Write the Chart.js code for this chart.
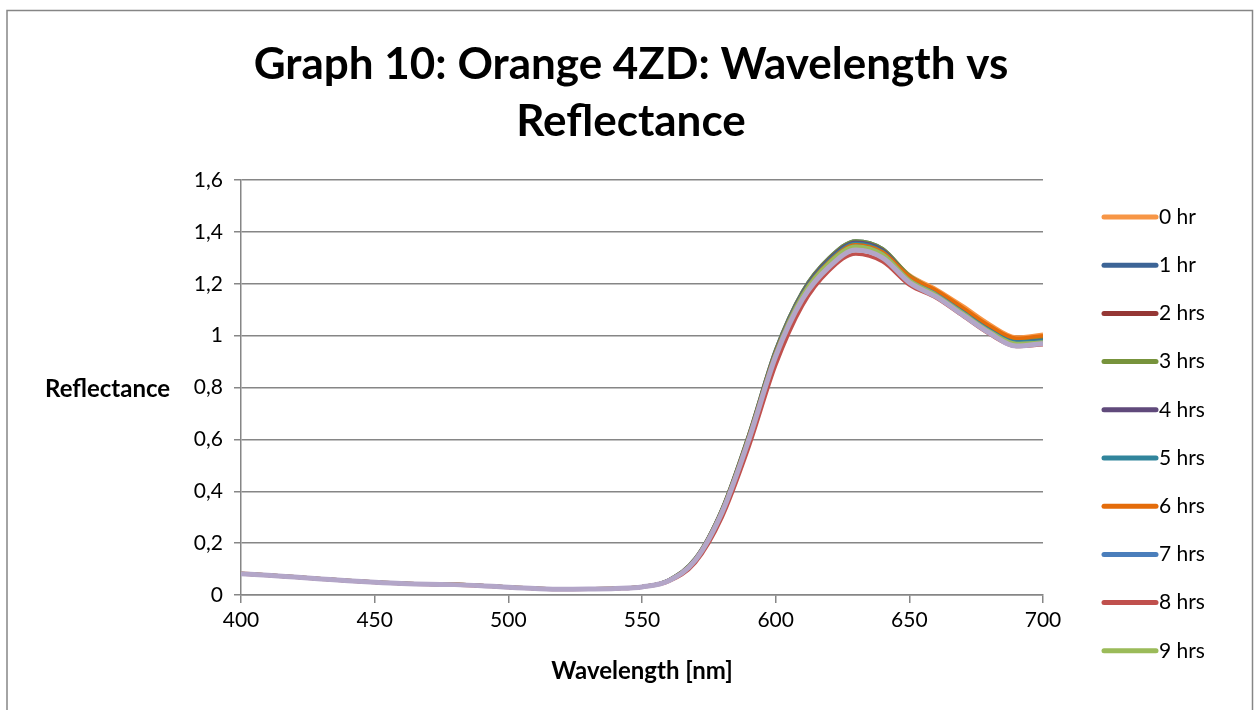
<!DOCTYPE html>
<html>
<head>
<meta charset="utf-8">
<script src="https://cdn.jsdelivr.net/npm/chart.js@4.4.1/dist/chart.umd.min.js"></script>
<style>
  html, body { margin: 0; padding: 0; background: #fff; }
  #wrap { width: 1257px; height: 710px; position: relative; }
</style>
</head>
<body>
<div id="wrap"><canvas id="reflChart"></canvas></div>
<script>
// wavelengths (nm)
const wavelengths = [400,410,420,430,440,450,460,470,480,490,500,510,520,530,540,550,560,570,580,590,600,610,620,630,640,650,660,670,680,690,700];

// reflectance per exposure time
const hr0  = [0.084,0.077,0.070,0.063,0.056,0.050,0.045,0.042,0.041,0.037,0.031,0.026,0.023,0.024,0.026,0.032,0.057,0.140,0.330,0.615,0.935,1.160,1.290,1.355,1.330,1.235,1.180,1.115,1.045,0.995,1.005];
const hr1  = [0.083,0.077,0.070,0.063,0.056,0.050,0.045,0.042,0.041,0.037,0.031,0.026,0.023,0.024,0.026,0.032,0.058,0.142,0.333,0.620,0.945,1.170,1.300,1.365,1.335,1.230,1.170,1.100,1.030,0.980,0.985];
const hr2  = [0.082,0.076,0.069,0.062,0.055,0.049,0.044,0.041,0.040,0.036,0.030,0.025,0.022,0.023,0.025,0.031,0.056,0.138,0.325,0.610,0.935,1.160,1.285,1.350,1.320,1.225,1.170,1.100,1.030,0.980,0.990];
const hr3  = [0.083,0.077,0.070,0.063,0.056,0.050,0.045,0.042,0.041,0.037,0.031,0.026,0.023,0.024,0.026,0.032,0.058,0.142,0.333,0.620,0.945,1.170,1.300,1.365,1.335,1.232,1.172,1.102,1.032,0.982,0.988];
const hr4  = [0.082,0.076,0.069,0.062,0.055,0.049,0.044,0.041,0.040,0.036,0.030,0.025,0.022,0.023,0.025,0.031,0.057,0.140,0.330,0.615,0.940,1.165,1.295,1.360,1.330,1.225,1.165,1.095,1.025,0.975,0.982];
const hr5  = [0.082,0.076,0.069,0.062,0.055,0.049,0.044,0.041,0.040,0.036,0.030,0.025,0.022,0.023,0.025,0.031,0.057,0.139,0.328,0.612,0.938,1.162,1.290,1.355,1.325,1.222,1.162,1.092,1.022,0.975,0.980];
const hr6  = [0.083,0.077,0.070,0.063,0.056,0.050,0.045,0.042,0.041,0.037,0.031,0.026,0.023,0.024,0.026,0.032,0.057,0.139,0.328,0.612,0.935,1.158,1.285,1.350,1.322,1.228,1.175,1.108,1.038,0.990,1.000];
const hr7  = [0.082,0.076,0.069,0.062,0.055,0.049,0.044,0.041,0.040,0.036,0.030,0.025,0.022,0.023,0.025,0.031,0.056,0.137,0.324,0.606,0.930,1.155,1.280,1.345,1.315,1.215,1.160,1.088,1.018,0.970,0.975];
const hr8  = [0.081,0.075,0.068,0.061,0.054,0.048,0.043,0.040,0.039,0.035,0.029,0.024,0.021,0.022,0.024,0.030,0.052,0.125,0.300,0.570,0.885,1.115,1.250,1.315,1.285,1.195,1.145,1.075,1.005,0.958,0.965];
const hr9  = [0.082,0.076,0.069,0.062,0.055,0.049,0.044,0.041,0.040,0.036,0.030,0.025,0.022,0.023,0.025,0.031,0.056,0.137,0.325,0.607,0.930,1.155,1.282,1.345,1.315,1.215,1.158,1.088,1.018,0.970,0.975];
const hr10 = [0.082,0.076,0.069,0.062,0.055,0.049,0.044,0.041,0.040,0.036,0.030,0.025,0.022,0.023,0.025,0.031,0.055,0.135,0.320,0.600,0.920,1.140,1.265,1.330,1.300,1.205,1.150,1.080,1.010,0.960,0.970];

const seriesLabels = ['0 hr','1 hr','2 hrs','3 hrs','4 hrs','5 hrs','6 hrs','7 hrs','8 hrs','9 hrs','10 hrs'];
const seriesValues = [hr0,hr1,hr2,hr3,hr4,hr5,hr6,hr7,hr8,hr9,hr10];
const seriesColors = ['#F79646','#3C6496','#953735','#77933C','#604A7B','#31859C','#E46C0A','#4A7EBB','#C0504D','#9BBB59','#B3A6C8'];

const yTicks = [0,0.2,0.4,0.6,0.8,1,1.2,1.4,1.6];
const xTicks = [400,450,500,550,600,650,700];

const FONT = 'Lato, "Open Sans", sans-serif';
const GRID = '#868686';

// frame, titles, and the legend (only 10 entries fit in the frame)
const decorations = {
  id: 'decorations',
  beforeDraw(chart) {
    const ctx = chart.ctx;
    ctx.save();
    ctx.fillStyle = '#fff';
    ctx.fillRect(0, 0, chart.width, chart.height);
    ctx.restore();
  },
  afterDraw(chart) {
    const ctx = chart.ctx;
    ctx.save();
    ctx.strokeStyle = GRID;
    ctx.lineWidth = 1.5;
    ctx.strokeRect(7, 10.5, 1245.5, 720);

    ctx.fillStyle = '#000';
    ctx.textAlign = 'center';
    ctx.textBaseline = 'middle';
    ctx.font = 'bold 44px ' + FONT;
    ctx.fillText('Graph 10: Orange 4ZD: Wavelength vs', 631, 65);
    ctx.fillText('Reflectance', 631, 122);

    ctx.font = 'bold 24px ' + FONT;
    ctx.textAlign = 'left';
    ctx.fillText('Reflectance', 45, 389);

    ctx.font = '21px ' + FONT;
    ctx.lineCap = 'round';
    ctx.lineWidth = 5;
    for (let i = 0; i < 10; i++) {
      const y = 217 + i * 48.2;
      ctx.strokeStyle = seriesColors[i];
      ctx.beginPath();
      ctx.moveTo(1104, y);
      ctx.lineTo(1156, y);
      ctx.stroke();
      ctx.fillText(seriesLabels[i], 1159, y);
    }
    ctx.restore();
  }
};

const datasets = seriesValues.map((vals, i) => ({
  label: seriesLabels[i],
  data: wavelengths.map((w, j) => ({ x: w, y: vals[j] })),
  borderColor: seriesColors[i],
  backgroundColor: seriesColors[i],
  borderWidth: i === 10 ? 5 : 3.5,
  pointRadius: 0,
  cubicInterpolationMode: 'monotone',
  order: -i
}));

new Chart(document.getElementById('reflChart'), {
  type: 'line',
  data: { datasets },
  options: {
    responsive: true,
    maintainAspectRatio: false,
    animation: false,
    layout: { padding: { left: 0, right: 214, top: 180, bottom: 24 } },
    plugins: {
      legend: { display: false },
      title: { display: false },
      tooltip: { enabled: false }
    },
    scales: {
      x: {
        type: 'linear',
        min: 400, max: 700,
        afterBuildTicks: s => { s.ticks = xTicks.map(v => ({ value: v })); },
        afterFit: s => { s.height = 91; },
        grid: { drawOnChartArea: false, drawTicks: true, tickLength: 8, color: GRID, lineWidth: 1.5 },
        border: { color: GRID, width: 1.5 },
        ticks: { color: '#000', font: { family: FONT, size: 21 }, padding: 5, maxRotation: 0 },
        title: { display: true, text: 'Wavelength [nm]', color: '#000', font: { family: FONT, size: 24, weight: 'bold' }, padding: 0 }
      },
      y: {
        min: 0, max: 1.6,
        afterBuildTicks: s => { s.ticks = yTicks.map(v => ({ value: v })); },
        afterFit: s => { s.width = 241; },
        grid: { color: GRID, lineWidth: 1.5, tickLength: 7 },
        border: { color: GRID, width: 1.5 },
        ticks: {
          color: '#000', font: { family: FONT, size: 21 }, padding: 11,
          callback: v => String(Math.round(v * 10) / 10).replace('.', ',')
        }
      }
    }
  },
  plugins: [decorations]
});
</script>
</body>
</html>
